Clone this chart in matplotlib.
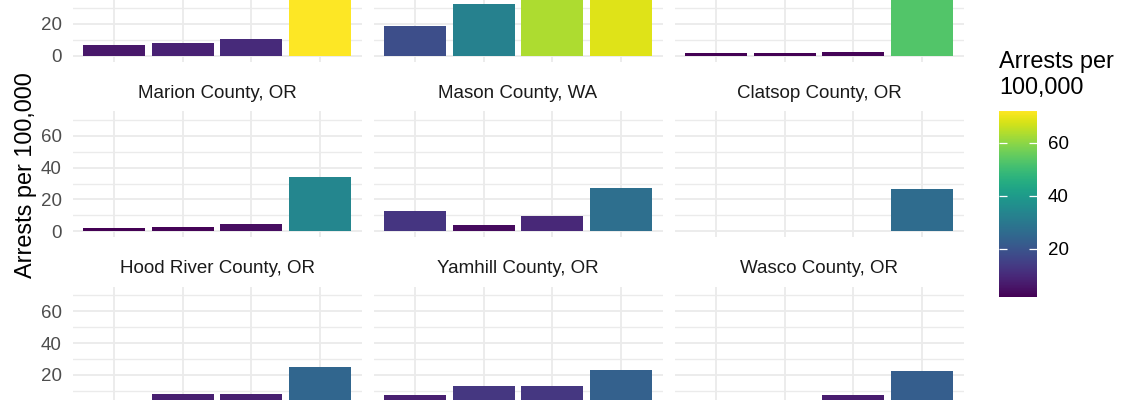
import matplotlib
matplotlib.use("Agg")
import matplotlib.pyplot as plt
import numpy as np
from matplotlib import cm, colors

plt.rcParams["font.family"] = ["Liberation Sans", "DejaVu Sans"]

nan = np.nan

# x categories (their labels sit below the visible area of the reference)
periods = ["1", "2", "3", "4"]

# facet titles; the top row's titles are cut off in the reference
counties = [
    None, None, None,
    "Marion County, OR", "Mason County, WA", "Clatsop County, OR",
    "Hood River County, OR", "Yamhill County, OR", "Wasco County, OR",
]

# arrests per 100,000 for each facet, one value per period
rate_top_left = [6.5, 8.2, 10.3, 72.0]
rate_top_mid = [18.5, 32.5, 63.5, 68.5]
rate_top_right = [1.9, 1.9, 2.5, 53.0]
rate_marion = [2.1, 2.7, 4.4, 34.2]
rate_mason = [12.6, 4.0, 9.7, 27.3]
rate_clatsop = [nan, nan, nan, 26.4]
rate_hood_river = [nan, 8.1, 8.1, 24.9]
rate_yamhill = [7.7, 13.1, 13.1, 23.4]
rate_wasco = [nan, nan, 7.2, 22.5]

rates = [
    rate_top_left, rate_top_mid, rate_top_right,
    rate_marion, rate_mason, rate_clatsop,
    rate_hood_river, rate_yamhill, rate_wasco,
]

y_ticks = [0, 20, 40, 60]
y_minor = [10, 30, 50, 70]

W, H = 1140, 400


def box(x0, y0, w, h):
    # pixel box (top-left origin) -> figure fraction
    return [x0 / W, 1 - (y0 + h) / H, w / W, h / H]


def main() -> None:
    all_vals = np.array([v for r in rates for v in r], dtype=float)
    vmin, vmax = np.nanmin(all_vals), np.nanmax(all_vals)
    norm = colors.Normalize(vmin=vmin, vmax=vmax)
    cmap = plt.get_cmap("viridis")

    fig = plt.figure(figsize=(W / 100, H / 100), dpi=100)
    fig.patch.set_facecolor("white")

    col_left = [72.5, 373.5, 674.5]
    row_top = [-64.5, 111.0, 286.5]
    pw, ph = 289.0, 126.0
    x = np.arange(1, len(periods) + 1)

    for k, (name, vals) in enumerate(zip(counties, rates)):
        r, c = divmod(k, 3)
        ax = fig.add_axes(box(col_left[c], row_top[r], pw, ph))
        vals = np.array(vals, dtype=float)
        ok = ~np.isnan(vals)
        ax.bar(x[ok], vals[ok], width=0.9, color=cmap(norm(vals[ok])), zorder=3)

        ax.set_xlim(0.4, len(periods) + 0.6)
        ax.set_ylim(-0.05 * vmax, vmax * 1.05)
        ax.set_xticks(x)
        ax.set_yticks(y_ticks)
        ax.set_yticks(y_minor, minor=True)
        ax.grid(True, which="major", color="#ebebeb", linewidth=1.3, zorder=0)
        ax.grid(True, which="minor", axis="y", color="#ebebeb", linewidth=1.0, zorder=0)
        for s in ax.spines.values():
            s.set_visible(False)
        ax.tick_params(axis="both", which="both", length=0)
        ax.tick_params(axis="x", labelbottom=False)
        if c == 0:
            ax.tick_params(axis="y", labelsize=13.5, labelcolor="#4d4d4d", pad=7.6)
        else:
            ax.tick_params(axis="y", labelleft=False)
        if name:
            ax.text(0.5, 1 + 18 / ph, name, transform=ax.transAxes, ha="center",
                    va="center", fontsize=13.5, color="#1a1a1a")

    fig.text(26 / W, 1 - 175 / H, "Arrests per 100,000", rotation=90,
             ha="center", va="center", fontsize=16.9, color="black")

    # colour legend
    fig.text(999 / W, 1 - 68 / H, "Arrests per", ha="left", va="baseline",
             fontsize=16.9, color="black")
    fig.text(999 / W, 1 - 94 / H, "100,000", ha="left", va="baseline",
             fontsize=16.9, color="black")
    cax = fig.add_axes(box(999, 111, 38, 186))
    sm = cm.ScalarMappable(norm=norm, cmap=cmap)
    cbar = fig.colorbar(sm, cax=cax, ticks=[20, 40, 60])
    cbar.outline.set_visible(False)
    cax.tick_params(axis="y", direction="in", left=True, right=True, color="white",
                    length=5.5, width=0.9, labelsize=13.5, labelcolor="black", pad=8)

    fig.savefig("out.png", dpi=100)
    plt.close(fig)


if __name__ == "__main__":
    main()
